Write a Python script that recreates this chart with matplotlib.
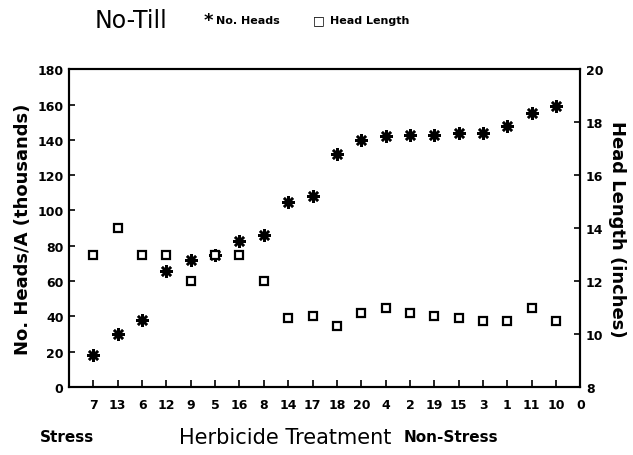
import matplotlib.pyplot as plt

# treatments ordered from stress to non-stress
treatments = ["7", "13", "6", "12", "9", "5", "16", "8", "14", "17",
              "18", "20", "4", "2", "19", "15", "3", "1", "11", "10"]
no_heads = [18, 30, 38, 66, 72, 75, 83, 86, 105, 108,
            132, 140, 142, 143, 143, 144, 144, 148, 155, 159]
head_length = [13, 14, 13, 13, 12, 13, 13, 12, 10.6, 10.7,
               10.3, 10.8, 11.0, 10.8, 10.7, 10.6, 10.5, 10.5, 11.0, 10.5]

left_ticks = [0, 20, 40, 60, 80, 100, 120, 140, 160, 180]
right_ticks = [8, 10, 12, 14, 16, 18, 20]

plt.rcParams['font.family'] = ['DejaVu Sans']

fig = plt.figure(figsize=(6.33, 4.56), dpi=100)
ax = fig.add_axes([0.109, 0.149, 0.808, 0.697])
ax2 = ax.twinx()

pos = list(range(1, len(treatments) + 1))
ax.plot(pos, no_heads, linestyle='none', marker=(8, 2, 0), markersize=9,
        markeredgewidth=1.8, color='black', zorder=3)
ax2.plot(pos, head_length, linestyle='none', marker='s', markersize=6,
         markerfacecolor='white', markeredgecolor='black', markeredgewidth=1.6)

ax.set_xlim(0, 21)
ax.set_ylim(0, 180)
ax2.set_ylim(8, 20)
ax.set_xticks(pos + [21])
ax.set_xticklabels(treatments + ["0"], fontsize=9, fontweight='bold')
ax.set_yticks(left_ticks)
ax.set_yticklabels([str(v) for v in left_ticks], fontsize=9, fontweight='bold')
ax2.set_yticks(right_ticks)
ax2.set_yticklabels([str(v) for v in right_ticks], fontsize=9, fontweight='bold')

ax.tick_params(axis='x', direction='in', length=5, width=1.2, pad=8)
ax.tick_params(axis='y', direction='in', length=4, width=1.2, pad=4)
ax2.tick_params(axis='y', direction='in', length=4, width=1.2, pad=4)
for a in (ax, ax2):
    for s in a.spines.values():
        s.set_linewidth(1.5)

ax.set_ylabel("No. Heads/A (thousands)", fontsize=13, fontweight='bold', labelpad=4)
ax2.set_ylabel("Head Length (inches)", fontsize=13, fontweight='bold',
               rotation=270, labelpad=16)

# header with legend
fig.text(0.150, 0.955, "No-Till", fontsize=17, va='center')
fig.text(0.322, 0.955, "*", fontsize=13, fontweight='bold', va='center')
fig.text(0.342, 0.955, "No. Heads", fontsize=8, fontweight='bold', va='center')
fig.text(0.495, 0.955, "□", fontsize=9, fontweight='bold', va='center')
fig.text(0.522, 0.955, "Head Length", fontsize=8, fontweight='bold', va='center')

# bottom captions
fig.text(0.063, 0.04, "Stress", fontsize=11, fontweight='bold', va='center')
fig.text(0.283, 0.04, "Herbicide Treatment", fontsize=15, va='center')
fig.text(0.637, 0.04, "Non-Stress", fontsize=11, fontweight='bold', va='center')

plt.savefig('out.png', dpi=100)
